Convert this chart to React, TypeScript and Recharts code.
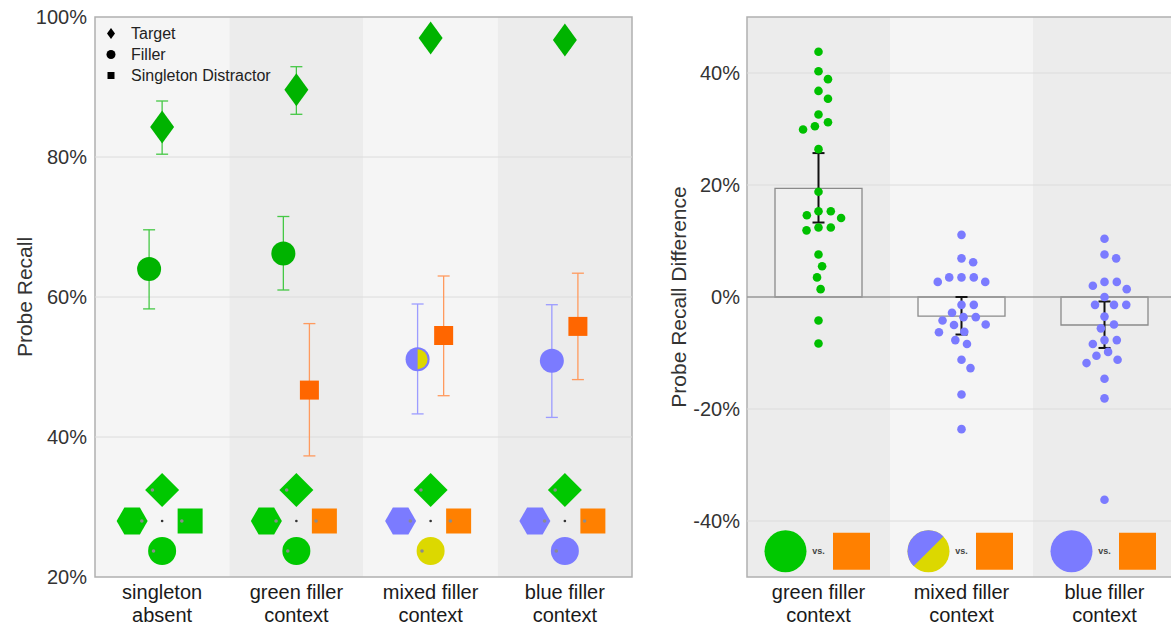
import React from "react";
import {
  ComposedChart,
  Scatter,
  Bar,
  ErrorBar,
  XAxis,
  YAxis,
  ReferenceArea,
  ReferenceLine,
  Legend,
  Label,
} from "recharts";

const FONT = "Arial, 'Liberation Sans', Helvetica, sans-serif";

// ---------- left panel: probe recall per condition ----------
const categories = ["singleton absent", "green filler context", "mixed filler context", "blue filler context"];
const fillerKind = ["green", "green", "mixed", "blue"];

const targetMean = [84.3, 89.6, 97.0, 96.7];
const targetLow = [80.4, 86.1, 95.9, 95.6];
const targetHigh = [88.0, 92.9, 98.1, 97.8];

const fillerMean = [64.0, 66.2, 51.1, 50.9];
const fillerLow = [58.3, 61.0, 43.3, 42.8];
const fillerHigh = [69.6, 71.5, 59.0, 58.9];

const distractorMean = [null, 46.7, 54.5, 55.8];
const distractorLow = [null, 37.3, 45.9, 48.2];
const distractorHigh = [null, 56.2, 63.0, 63.4];

const leftTicks = [20, 40, 60, 80, 100];
const legendItems = ["Target", "Filler", "Singleton Distractor"];

// ---------- right panel: filler - distractor differences ----------
const diffCategories = ["green filler context", "mixed filler context", "blue filler context"];
const diffMean = [19.4, -3.4, -5.0];
const diffLow = [13.3, -6.7, -9.1];
const diffHigh = [25.7, 0.0, -0.8];

const greenDiffs = [43.8, 40.3, 38.9, 36.8, 35.4, 32.6, 31.2, 30.5, 29.9, 26.4, 18.8, 15.3, 15.3, 14.6, 14.1,
  12.4, 12.4, 11.9, 7.6, 5.5, 3.5, 1.4, -4.2, -8.3];
const mixedDiffs = [11.1, 6.9, 6.2, 3.5, 3.5, 3.5, 2.7, 2.7, -1.4, -1.4, -2.8, -3.6, -3.6, -4.2, -5.0, -4.9,
  -6.2, -6.3, -7.7, -8.4, -11.2, -12.7, -17.4, -23.6];
const blueDiffs = [10.4, 7.6, 6.9, 2.7, 2.7, 2.0, 1.4, 0.0, -1.4, -1.4, -1.4, -3.5, -4.9, -5.6, -7.7, -7.7,
  -8.4, -9.8, -10.5, -11.2, -11.8, -14.6, -18.1, -36.2];

const rightTicks = [-40, -20, 0, 20, 40];

// ---------- colours ----------
const GREEN = "#00b300";
const GREEN_ERR = "#45c845";
const ORANGE = "#ff6600";
const ORANGE_ERR = "#ff9a5e";
const BLUE = "#7b7bff";
const BLUE_ERR = "#9c9cff";
const YELLOW = "#dcd800";
const ICON_GREEN = "#00c800";
const ICON_ORANGE = "#ff8000";
const BAND_LIGHT = "#f5f5f5";
const BAND_DARK = "#ececec";

const FILLER_SHIFT = 0.097; // horizontal dodge of filler / distractor within a band

const ICON_STYLE: Record<string, { hex: string; square: string; circle: string }> = {
  "singleton absent": { hex: ICON_GREEN, square: ICON_GREEN, circle: ICON_GREEN },
  "green filler context": { hex: ICON_GREEN, square: ICON_ORANGE, circle: ICON_GREEN },
  "mixed filler context": { hex: BLUE, square: ICON_ORANGE, circle: YELLOW },
  "blue filler context": { hex: BLUE, square: ICON_ORANGE, circle: BLUE },
};

const targetRows = categories.map((c, i) => ({
  x: i + 0.5,
  y: targetMean[i],
  err: [targetMean[i] - targetLow[i], targetHigh[i] - targetMean[i]],
}));

const fillerRows = categories.map((c, i) => ({
  x: i + 0.5 - FILLER_SHIFT,
  y: fillerMean[i],
  kind: fillerKind[i],
  err: [fillerMean[i] - fillerLow[i], fillerHigh[i] - fillerMean[i]],
}));
const fillerGreenRows = fillerRows.filter((r) => r.kind === "green");
const fillerBlueRows = fillerRows.filter((r) => r.kind !== "green");

const distractorRows = categories
  .map((c, i) => ({
    x: i + 0.5 + FILLER_SHIFT,
    y: distractorMean[i] as number,
    err: [(distractorMean[i] as number) - (distractorLow[i] as number), (distractorHigh[i] as number) - (distractorMean[i] as number)],
  }))
  .filter((r, i) => distractorMean[i] != null);

const iconRows = categories.map((c, i) => ({ x: i + 0.5, y: 28.0, cat: c }));

// simple beeswarm, offsets in px
function swarm(values: number[], pxPerUnit: number, d: number): number[] {
  const order = values.map((v, i) => i).sort((a, b) => values[b] - values[a]);
  const placed: { x: number; y: number }[] = [];
  const out = new Array(values.length).fill(0);
  for (const i of order) {
    const y = values[i] * pxPerUnit;
    const blocks: [number, number][] = [];
    for (const p of placed) {
      const dy = Math.abs(p.y - y);
      if (dy < d) {
        const w = Math.sqrt(d * d - dy * dy);
        blocks.push([p.x - w, p.x + w]);
      }
    }
    const cands = [0, ...blocks.flatMap(([a, b]) => [a, b])].sort((a, b) => Math.abs(a) - Math.abs(b) || b - a);
    const x = cands.find((c) => blocks.every(([a, b]) => c <= a + 1e-6 || c >= b - 1e-6)) ?? 0;
    placed.push({ x, y });
    out[i] = x;
  }
  return out;
}

const PX_PER_UNIT = 5.6;
const dotRows = [greenDiffs, mixedDiffs, blueDiffs].flatMap((vals, ci) => {
  const dx = swarm(vals, PX_PER_UNIT, 12.3);
  return vals.map((v, j) => ({ cat: diffCategories[ci], y: v, dx: dx[j], green: ci === 0 }));
});

const diffRows = diffCategories.map((c, i) => ({
  cat: c,
  mean: diffMean[i],
  err: [diffMean[i] - diffLow[i], diffHigh[i] - diffMean[i]],
}));

const diffIconRows = diffCategories.map((c) => ({ cat: c, y: -45.4 }));

// ---------- shapes ----------
const Diamond = (p: any) => (
  <path d={`M${p.cx},${p.cy - 16.5} L${p.cx + 12},${p.cy} L${p.cx},${p.cy + 16.5} L${p.cx - 12},${p.cy} Z`} fill={GREEN} />
);

const GreenCircle = (p: any) => <circle cx={p.cx} cy={p.cy} r={12} fill={GREEN} />;

const BlueCircle = (p: any) => (
  <g>
    <circle cx={p.cx} cy={p.cy} r={12} fill={BLUE} />
    {p.payload.kind === "mixed" && (
      <path d={`M${p.cx},${p.cy - 10} A10,10 0 0 1 ${p.cx},${p.cy + 10} Z`} fill={YELLOW} />
    )}
  </g>
);

const OrangeSquare = (p: any) => <rect x={p.cx - 9.5} y={p.cy - 9.5} width={19} height={19} fill={ORANGE} />;

const NoShape = () => <g />;

const GAZE = "#8c8c8c";

const DisplayIcon = (p: any) => {
  const s = ICON_STYLE[p.payload.cat];
  const cx = p.cx;
  const cy = p.cy;
  const dy = cy - 31;
  const hx = cx - 30;
  const sx = cx + 28;
  const ccy = cy + 30;
  const hw = 15.5;
  const hh = 13.5;
  return (
    <g>
      <path d={`M${cx},${dy - 17} L${cx + 17},${dy} L${cx},${dy + 17} L${cx - 17},${dy} Z`} fill={ICON_GREEN} />
      <circle cx={cx - 9.7} cy={dy} r={1.8} fill={GAZE} />
      <path
        d={`M${hx - hw},${cy} L${hx - hw / 2},${cy - hh} L${hx + hw / 2},${cy - hh} L${hx + hw},${cy} L${hx + hw / 2},${cy + hh} L${hx - hw / 2},${cy + hh} Z`}
        fill={s.hex}
      />
      <circle cx={hx + 9.7} cy={cy} r={1.8} fill={GAZE} />
      <rect x={sx - 12.5} y={cy - 12.5} width={25} height={25} fill={s.square} />
      <circle cx={sx - 8.3} cy={cy} r={1.8} fill={GAZE} />
      <circle cx={cx} cy={ccy} r={14} fill={s.circle} />
      <circle cx={cx - 8.6} cy={ccy} r={1.8} fill={GAZE} />
      <circle cx={cx} cy={cy} r={1.3} fill="#333" />
    </g>
  );
};

const DiffDot = (p: any) => (
  <circle cx={p.cx + p.payload.dx} cy={p.cy} r={4.3} fill={p.payload.green ? "#00c000" : BLUE} />
);

const DiffIcon = (p: any) => {
  const cx = p.cx;
  const cy = p.cy;
  const ccx = cx - 33;
  const r = 21;
  const k = r * Math.SQRT1_2;
  let circle;
  if (p.payload.cat === "mixed filler context") {
    circle = (
      <g>
        <circle cx={ccx} cy={cy} r={r} fill={YELLOW} />
        <path d={`M${ccx - k},${cy + k} A${r},${r} 0 0 1 ${ccx + k},${cy - k} Z`} fill={BLUE} />
      </g>
    );
  } else {
    circle = <circle cx={ccx} cy={cy} r={r} fill={p.payload.cat === "green filler context" ? ICON_GREEN : BLUE} />;
  }
  return (
    <g>
      {circle}
      <text x={cx} y={cy} textAnchor="middle" dominantBaseline="central" fontSize={9} fontWeight="bold" fill="#444" fontFamily={FONT}>
        vs.
      </text>
      <rect x={cx + 33 - 18.5} y={cy - 18.5} width={37} height={37} fill={ICON_ORANGE} />
    </g>
  );
};

function splitLabel(s: string): [string, string] {
  const idx = s.lastIndexOf(" ");
  return [s.slice(0, idx), s.slice(idx + 1)];
}

const CatTick = (p: any) => {
  const label: string = p.labelOf(p.payload.value);
  const [a, b] = splitLabel(label);
  return (
    <g>
      <text x={p.x} y={p.y + 22} textAnchor="middle" fontSize={20} fill="#1a1a1a" fontFamily={FONT}>{a}</text>
      <text x={p.x} y={p.y + 45} textAnchor="middle" fontSize={20} fill="#1a1a1a" fontFamily={FONT}>{b}</text>
    </g>
  );
};

const LegendBox = () => (
  <div style={{ fontFamily: FONT, fontSize: 16, color: "#222", lineHeight: "21px" }}>
    {legendItems.map((name, i) => (
      <div key={name} style={{ display: "flex", alignItems: "center", height: 21 }}>
        <svg width={20} height={21}>
          {i === 0 && <path d="M10,5 L14,10.5 L10,16 L6,10.5 Z" fill="#000" />}
          {i === 1 && <circle cx={10} cy={10.5} r={4.5} fill="#000" />}
          {i === 2 && <rect x={6.5} y={7} width={7} height={7} fill="#000" />}
        </svg>
        <span style={{ marginLeft: 10 }}>{name}</span>
      </div>
    ))}
  </div>
);

function LeftPanel() {
  return (
    <ComposedChart width={640} height={628} margin={{ top: 17, right: 8, bottom: 6, left: 0 }}>
      <XAxis
        dataKey="x"
        type="number"
        domain={[0, 4]}
        ticks={[0.5, 1.5, 2.5, 3.5]}
        allowDataOverflow
        height={45}
        axisLine={false}
        tickLine={false}
        tickSize={0}
        tickMargin={0}
        interval={0}
        tick={(p: any) => <CatTick {...p} labelOf={(v: number) => categories[Math.floor(v)]} />}
      />
      <YAxis
        type="number"
        domain={[20, 100]}
        ticks={leftTicks}
        allowDataOverflow
        width={95}
        axisLine={false}
        tickLine={false}
        tickSize={0}
        tickMargin={8}
        tickFormatter={(v: number) => `${v}%`}
        tick={{ fill: "#333", fontSize: 20, fontFamily: FONT }}
      >
        <Label
          content={() => (
            <text x={24} y={297} transform="rotate(-90 24 297)" textAnchor="middle" dominantBaseline="central" fontSize={21} fill="#333" fontFamily={FONT}>
              Probe Recall
            </text>
          )}
        />
      </YAxis>
      {categories.map((c, i) => (
        <ReferenceArea key={c} x1={i} x2={i + 1} y1={20} y2={100} fill={i % 2 === 0 ? BAND_LIGHT : BAND_DARK} fillOpacity={1} stroke="none" />
      ))}
      {[40, 60, 80].map((v) => (
        <ReferenceLine key={v} y={v} stroke="#dcdcdc" strokeWidth={1} />
      ))}
      <ReferenceArea x1={0} x2={4} y1={20} y2={100} fill="none" stroke="#b0b0b0" strokeWidth={1.5} />
      <Legend
        layout="vertical"
        align="center"
        verticalAlign="middle"
        content={LegendBox}
        wrapperStyle={{ left: 101, top: 23, width: 220, height: 66 }}
      />
      <Scatter data={iconRows} dataKey="y" shape={DisplayIcon} isAnimationActive={false} />
      <Scatter data={targetRows} dataKey="y" shape={Diamond} isAnimationActive={false}>
        <ErrorBar dataKey="err" direction="y" width={6} stroke={GREEN_ERR} strokeWidth={1.3} />
      </Scatter>
      <Scatter data={fillerGreenRows} dataKey="y" shape={GreenCircle} isAnimationActive={false}>
        <ErrorBar dataKey="err" direction="y" width={6} stroke={GREEN_ERR} strokeWidth={1.3} />
      </Scatter>
      <Scatter data={fillerBlueRows} dataKey="y" shape={BlueCircle} isAnimationActive={false}>
        <ErrorBar dataKey="err" direction="y" width={6} stroke={BLUE_ERR} strokeWidth={1.3} />
      </Scatter>
      <Scatter data={distractorRows} dataKey="y" shape={OrangeSquare} isAnimationActive={false}>
        <ErrorBar dataKey="err" direction="y" width={6} stroke={ORANGE_ERR} strokeWidth={1.3} />
      </Scatter>
    </ComposedChart>
  );
}

function RightPanel() {
  return (
    <ComposedChart width={540} height={628} data={diffRows} margin={{ top: 17, right: 4, bottom: 6, left: 0 }}>
      <XAxis
        dataKey="cat"
        type="category"
        allowDuplicatedCategory={false}
        height={45}
        axisLine={false}
        tickLine={false}
        tickSize={0}
        tickMargin={0}
        interval={0}
        tick={(p: any) => <CatTick {...p} labelOf={(v: string) => v} />}
      />
      <YAxis
        type="number"
        domain={[-50, 50]}
        ticks={rightTicks}
        allowDataOverflow
        width={107}
        axisLine={false}
        tickLine={false}
        tickSize={0}
        tickMargin={7}
        tickFormatter={(v: number) => `${v}%`}
        tick={{ fill: "#333", fontSize: 20, fontFamily: FONT }}
      >
        <Label
          content={() => (
            <text x={38} y={297} transform="rotate(-90 38 297)" textAnchor="middle" dominantBaseline="central" fontSize={21} fill="#333" fontFamily={FONT}>
              Probe Recall Difference
            </text>
          )}
        />
      </YAxis>
      {diffCategories.map((c, i) => (
        <ReferenceArea key={c} x1={c} x2={c} y1={-50} y2={50} fill={i % 2 === 0 ? BAND_DARK : BAND_LIGHT} fillOpacity={1} stroke="none" />
      ))}
      {[-40, -20, 20, 40].map((v) => (
        <ReferenceLine key={v} y={v} stroke="#dcdcdc" strokeWidth={1} />
      ))}
      <ReferenceArea y1={-50} y2={50} fill="none" stroke="#b0b0b0" strokeWidth={1.5} />
      <Bar dataKey="mean" barSize={87} fill="#ffffff" fillOpacity={0.2} stroke="#8a8a8a" strokeWidth={1.3} isAnimationActive={false} />
      <ReferenceLine y={0} stroke="#999" strokeWidth={1.5} />
      <Scatter data={dotRows} dataKey="y" shape={DiffDot} isAnimationActive={false} />
      <Scatter data={diffRows} dataKey="mean" shape={NoShape} isAnimationActive={false}>
        <ErrorBar dataKey="err" direction="y" width={6} stroke="#111" strokeWidth={2} />
      </Scatter>
      <Scatter data={diffIconRows} dataKey="y" shape={DiffIcon} isAnimationActive={false} />
    </ComposedChart>
  );
}

export default function App() {
  return (
    <div style={{ position: "absolute", left: 0, top: 0, width: 1171, height: 628, overflow: "hidden", background: "#fff", fontFamily: FONT }}>
      <div style={{ position: "absolute", left: 0, top: 0 }}>
        <LeftPanel />
      </div>
      <div style={{ position: "absolute", left: 640, top: 0 }}>
        <RightPanel />
      </div>
    </div>
  );
}
